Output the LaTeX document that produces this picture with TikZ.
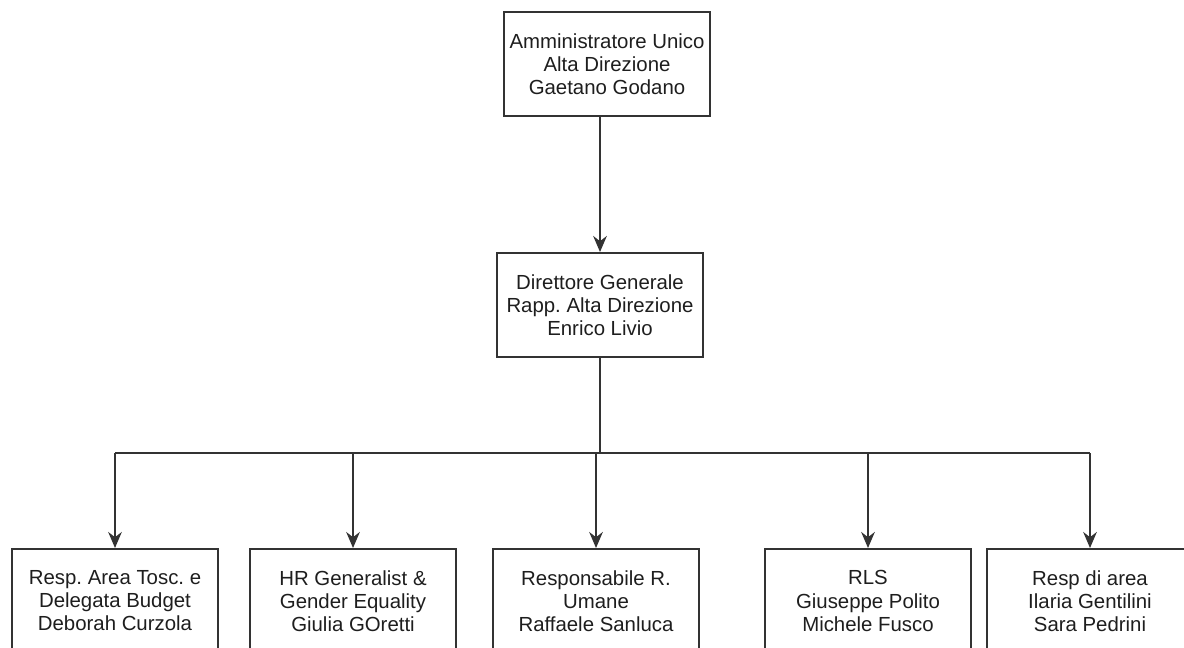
\documentclass[tikz,border=0pt]{standalone}
\usepackage{fontspec}
\setmainfont{Liberation Sans}
\usepackage{tikz}
\usetikzlibrary{arrows.meta, positioning}
\definecolor{inkline}{HTML}{333333}
\definecolor{inktext}{HTML}{1E1E1E}
\frenchspacing

\begin{document}
\begin{tikzpicture}[x=0.025cm, y=-0.025cm, >={Stealth[length=4mm, width=3.4mm]}, line width=1.4pt,
				Box/.style={
				draw=inkline,
				fill=white,
				align=center,
				minimum width=5.15cm,
				minimum height=2.6cm,
				inner sep=2pt,
				text=inktext,
				font=\fontsize{14.5}{16.4}\selectfont
				},
				Link/.style={->, draw=inkline}]
				\useasboundingbox (0,0) rectangle (1184,647);
				\clip (0,0) rectangle (1184,647);
				% top levels
				\node[Box] (au) at (607,64) {Amministratore Unico\\Alta Direzione\\Gaetano Godano};
				\node[Box] (dg) at (600,305) {Direttore Generale\\Rapp. Alta Direzione\\Enrico Livio};
				% staff row
				\node[Box] (rt) at (115,601) {Resp. Area Tosc. e\\Delegata Budget\\Deborah Curzola};
				\node[Box] (hr) at (353,601) {HR Generalist \&\\Gender Equality\\Giulia GOretti};
				\node[Box] (ru) at (596,601) {Responsabile R.\\Umane\\Raffaele Sanluca};
				\node[Box] (rls) at (868,601) {RLS\\Giuseppe Polito\\Michele Fusco};
				\node[Box] (ra) at (1090,601) {Resp di area\\Ilaria Gentilini\\Sara Pedrini};
				\coordinate (bus) at (600,453);
				\draw[Link] (au.south -| dg) -- (dg);
				\draw[draw=inkline] (dg) -- (bus);
				\draw[draw=inkline] (rt |- bus) -- (ra |- bus);
				\foreach \n in {rt,hr,ru,rls,ra}
					\draw[Link] (\n |- bus) -- (\n);
			\end{tikzpicture}
\end{document}
